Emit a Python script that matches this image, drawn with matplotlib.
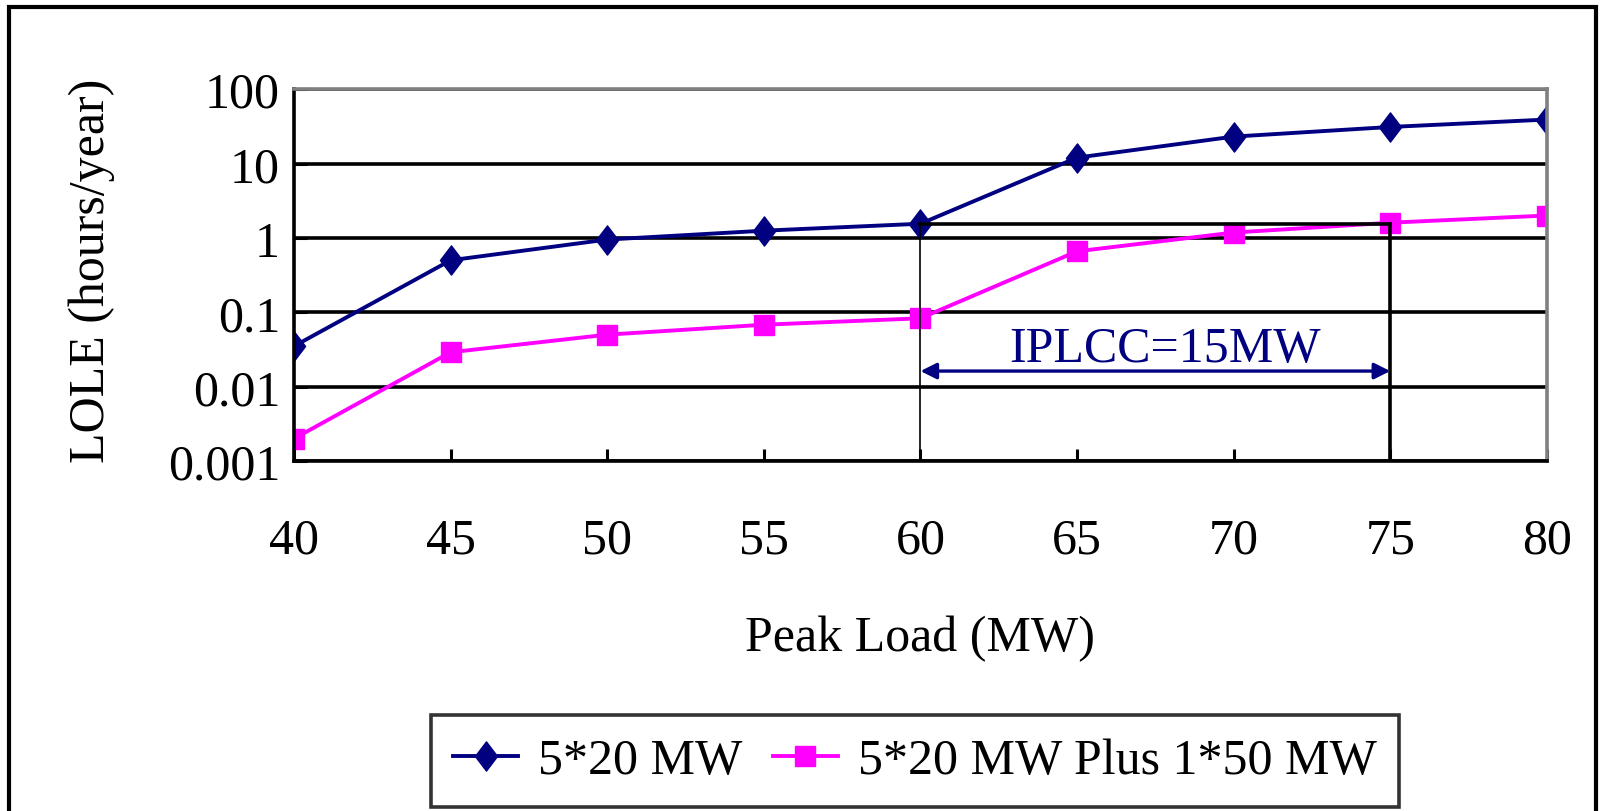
import matplotlib.pyplot as plt
from matplotlib.path import Path
from matplotlib.patches import Rectangle

plt.rcParams['font.family'] = ['Liberation Serif', 'DejaVu Serif']

peak_load = [40, 45, 50, 55, 60, 65, 70, 75, 80]
lole_base = [0.035, 0.5, 0.95, 1.25, 1.55, 12, 23, 31, 39]
lole_plus = [0.002, 0.029, 0.05, 0.068, 0.083, 0.66, 1.18, 1.6, 2.0]
yticks = [0.001, 0.01, 0.1, 1, 10, 100]
ytick_labels = ['0.001', '0.01', '0.1', '1', '10', '100']
series_names = ['5*20 MW', '5*20 MW Plus 1*50 MW']

# narrow diamond like the excel marker
diamond = Path([(-0.38, 0), (0, 0.5), (0.38, 0), (0, -0.5), (-0.38, 0)],
               [Path.MOVETO, Path.LINETO, Path.LINETO, Path.LINETO, Path.CLOSEPOLY])

fs = 36

fig = plt.figure(figsize=(16.03, 8.12), dpi=100)
ax = fig.add_axes([0.1834, 0.431, 0.7816, 0.458])

ax.plot(peak_load, lole_base, color='#000080', lw=2.8, marker=diamond,
        markersize=21, label=series_names[0])
ax.plot(peak_load, lole_plus, color='#FF00FF', lw=2.8, marker='s',
        markersize=14, label=series_names[1])

ax.set_yscale('log')
ax.set_ylim(0.001, 100)
ax.set_xlim(40, 80)
ax.set_yticks(yticks)
ax.set_yticklabels(ytick_labels)
ax.minorticks_off()
ax.set_xticks(peak_load)
ax.yaxis.grid(True, color='black', lw=2.6)
ax.set_axisbelow(True)

for s in ['left', 'bottom']:
    ax.spines[s].set_color('black')
    ax.spines[s].set_linewidth(2.6)
for s in ['top', 'right']:
    ax.spines[s].set_color('#808080')
    ax.spines[s].set_linewidth(2.6)

ax.tick_params(axis='x', direction='in', length=9, width=2.2, labelsize=fs, pad=40)
ax.tick_params(axis='y', direction='in', length=9, width=2.2, labelsize=fs, pad=10)

# IPLCC marking
ax.plot([60, 60], [0.001, lole_base[4]], color='black', lw=1.2)
ax.plot([60, 75], [lole_base[4], lole_base[4]], color='black', lw=2.6)
ax.plot([75, 75], [0.001, lole_base[4]], color='black', lw=2.6)
ax.annotate('', xy=(60, 0.0162), xytext=(75, 0.0162),
            arrowprops=dict(arrowstyle='<|-|>', color='#000080', lw=2.4,
                            mutation_scale=24, shrinkA=0, shrinkB=0))
ax.text(67.8, 0.032, 'IPLCC=15MW', color='#000080', fontsize=fs,
        ha='center', va='center')

fig.text(0.574, 1 - 639 / 812, 'Peak Load (MW)', fontsize=fs,
         ha='center', va='center')
fig.text(92 / 1603, 1 - 271 / 812, 'LOLE (hours/year)', fontsize=fs,
         rotation=90, ha='center', va='center')

leg = fig.legend(loc='center', bbox_to_anchor=(915 / 1603, 1 - 762 / 812),
                 ncol=2, fontsize=fs, frameon=True, fancybox=False,
                 handlelength=1.3, handletextpad=0.4, columnspacing=0.6,
                 borderpad=0.45, borderaxespad=0)
leg.get_frame().set_edgecolor('black')
leg.get_frame().set_linewidth(2.6)

fig.patches.append(Rectangle((9 / 1603, -0.05), 1587 / 1603, 1.04, transform=fig.transFigure,
                             fill=False, edgecolor='black', lw=3))

fig.savefig('out.png', dpi=100)
